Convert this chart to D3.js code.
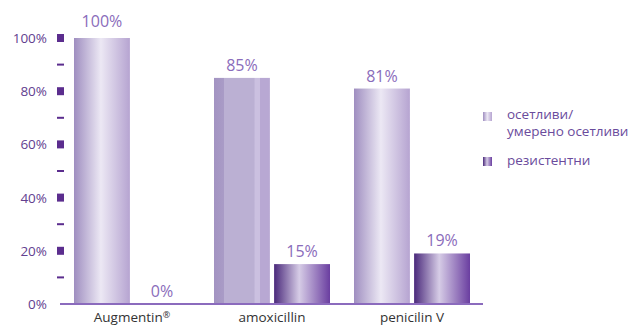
<!DOCTYPE html>
<meta charset="utf-8">
<html lang="bg">
<head>
<title>Augmentin susceptibility</title>
<style>
body { margin: 0; background: #fff; }
text { font-family: "Open Sans", sans-serif; }
.tick-label { font-size: 13.5px; fill: #62408f; }
.value-label { font-size: 16px; fill: #8a6cbb; }
.cat-label { font-size: 13.5px; fill: #333; }
.legend text { font-size: 13.5px; fill: #6a4b9c; }
</style>
</head>
<body>
<script src="https://d3js.org/d3.v7.min.js"></script>
<script>

// data
var categories = ["Augmentin", "amoxicillin", "penicilin V"];
var series = ["осетливи/умерено осетливи", "резистентни"];
var susceptible = [100, 85, 81];
var resistant = [0, 15, 19];
var majorTicks = [0, 20, 40, 60, 80, 100];
var minorTicks = [10, 30, 50, 70, 90];

var width = 632, height = 325;

var svg = d3.select("body").append("svg")
    .attr("width", width)
    .attr("height", height);

var defs = svg.append("defs");

function gradient(id, stops) {
  var g = defs.append("linearGradient").attr("id", id)
      .attr("x1", "0%").attr("x2", "100%").attr("y1", "0%").attr("y2", "0%");
  stops.forEach(function(s) {
    g.append("stop").attr("offset", s[0]).attr("stop-color", s[1]);
  });
}
gradient("light", [["0%", "#9f8ec0"], ["48%", "#ece8f4"], ["100%", "#b6a4d1"]]);
gradient("dark", [["0%", "#4a297b"], ["45%", "#d6cce6"], ["100%", "#6a3ea0"]]);
// the 85% bar is flat in the original
gradient("flat", [["0%", "#a394c2"], ["17%", "#a99bc6"], ["18%", "#bbb0d3"], ["72%", "#bbb0d3"], ["73%", "#cbc0e0"], ["82%", "#cbc0e0"], ["83%", "#b8a8d3"], ["100%", "#b8a8d3"]]);

var y = d3.scaleLinear().domain([0, 100]).range([304, 38]);

var x0 = d3.scaleBand().domain(categories).range([62, 482]);
var x1 = d3.scaleBand().domain(series).range([12, 128]).paddingInner(0.07);

// y ticks
svg.selectAll(".major").data(majorTicks).enter().append("rect")
    .attr("class", "major")
    .attr("x", 57).attr("width", 7)
    .attr("y", function(d) { return y(d) - 4; })
    .attr("height", 8)
    .attr("fill", "#5b2d8e")
    .filter(function(d) { return d === 0; }).remove();

svg.selectAll(".minor").data(minorTicks).enter().append("rect")
    .attr("class", "minor")
    .attr("x", 57).attr("width", 7)
    .attr("y", function(d) { return y(d) - 1; })
    .attr("height", 2)
    .attr("fill", "#5b2d8e");

svg.selectAll(".tick-label").data(majorTicks).enter().append("text")
    .attr("class", "tick-label")
    .attr("x", 47)
    .attr("y", function(d) { return y(d) + 5; })
    .attr("text-anchor", "end")
    .text(function(d) { return d + "%"; });

// bars
var rows = categories.map(function(c, i) {
  return { cat: c, values: [susceptible[i], resistant[i]] };
});

var group = svg.selectAll(".group").data(rows).enter().append("g")
    .attr("class", "group")
    .attr("transform", function(d) { return "translate(" + x0(d.cat) + ",0)"; });

group.selectAll("rect").data(function(d) {
    return d.values.map(function(v, j) { return { s: series[j], v: v, j: j, cat: d.cat }; });
  }).enter().append("rect")
    .attr("x", function(d) { return x1(d.s); })
    .attr("width", x1.bandwidth())
    .attr("y", function(d) { return y(d.v); })
    .attr("height", function(d) { return y(0) - y(d.v); })
    .attr("fill", function(d) {
      if (d.j === 1) return "url(#dark)";
      return d.cat === "amoxicillin" ? "url(#flat)" : "url(#light)";
    });

group.selectAll(".value-label").data(function(d) {
    return d.values.map(function(v, j) { return { s: series[j], v: v }; });
  }).enter().append("text")
    .attr("class", "value-label")
    .attr("x", function(d) { return x1(d.s) + x1.bandwidth() / 2; })
    .attr("y", function(d) { return y(d.v) - (d.v === 100 ? 11 : 7); })
    .attr("text-anchor", "middle")
    .text(function(d) { return d.v + "%"; });

// baseline
svg.append("line")
    .attr("x1", 60).attr("x2", 483)
    .attr("y1", y(0)).attr("y2", y(0))
    .attr("stroke", "#8b6bbd").attr("stroke-width", 2);

// category labels
var cat = svg.selectAll(".cat-label").data(categories).enter().append("text")
    .attr("class", "cat-label")
    .attr("x", function(d) { return x0(d) + x0.bandwidth() / 2; })
    .attr("y", 322)
    .attr("text-anchor", "middle")
    .text(function(d) { return d; });
cat.filter(function(d) { return d === "Augmentin"; })
  .append("tspan").attr("dy", -4).attr("font-size", 9).text("®");

// legend
var legend = svg.append("g").attr("class", "legend");
legend.append("rect").attr("x", 483).attr("y", 112).attr("width", 9).attr("height", 9).attr("fill", "url(#light)");
legend.append("rect").attr("x", 483).attr("y", 157).attr("width", 9).attr("height", 9).attr("fill", "url(#dark)");
legend.append("text").attr("x", 507).attr("y", 119).text("осетливи/");
legend.append("text").attr("x", 507).attr("y", 136).text("умерено осетливи");
legend.append("text").attr("x", 507).attr("y", 165).text(series[1]);

</script>
</body>
</html>
